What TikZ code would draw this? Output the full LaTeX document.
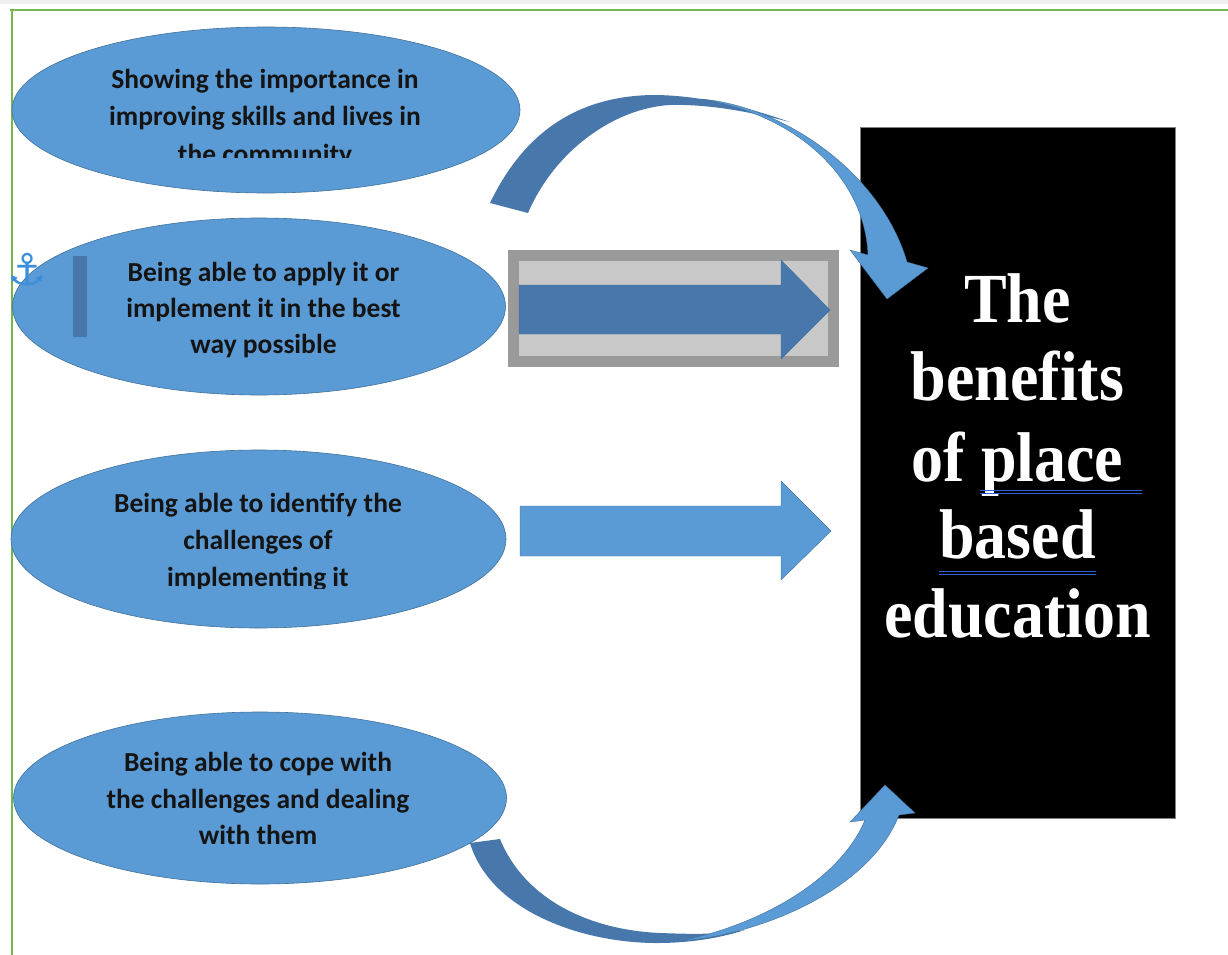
\documentclass[tikz,border=0pt]{standalone}
\usepackage{fontspec}
\usetikzlibrary{shapes.geometric}
\newfontfamily\bubblefont{Carlito}
\newfontfamily\titlefont{Liberation Serif}
\newfontfamily\symfont{DejaVu Sans}
\definecolor{bubble}{HTML}{5B9BD5}
\definecolor{bubbleedge}{HTML}{41719C}
\definecolor{deepblue}{HTML}{4878AB}
\definecolor{frameg}{HTML}{74B84E}
\definecolor{topband}{HTML}{EFEFEF}
\definecolor{boxouter}{HTML}{9A9A9A}
\definecolor{boxinner}{HTML}{C8C8C8}
\definecolor{inkdark}{HTML}{141414}
\definecolor{markblue}{HTML}{2F5FE0}
\definecolor{anchorblue}{HTML}{3C8EDB}
\newcommand{\tall}[1]{\scalebox{1}[1.1]{#1}}
\tikzset{
  bubblebox/.style={ellipse, fill=bubble, draw=bubbleedge, line width=0.6pt, inner sep=0pt},
  bubbletext/.style={anchor=base, text=inkdark, inner sep=0pt,
    font=\bubblefont\bfseries\fontsize{27.5}{37}\selectfont},
  titletext/.style={anchor=base, text=white, inner sep=0pt,
    font=\titlefont\bfseries\fontsize{64}{79}\selectfont},
  blockarrow/.style={fill=bubble, draw=bubbleedge, line width=0.4pt},
  darkarrow/.style={fill=deepblue, draw=bubbleedge, line width=0.4pt},
  spellmark/.style={draw=markblue, line width=1.2pt},
}
\begin{document}
\begin{tikzpicture}[x=1pt,y=-1pt]
\useasboundingbox (0,0) rectangle (1228,955);
\fill[white] (0,0) rectangle (1228,955);
% page edge
\fill[topband] (0,0) rectangle (1228,4);
\draw[frameg, line width=1.6pt] (10,10) -- (1228,10);
\draw[frameg, line width=1.6pt] (12,10) -- (12,955);

% title panel
\node[fill=black, draw=gray, line width=0.6pt, minimum width=315pt, minimum height=691pt, inner sep=0pt]
  (panel) at (1017.5,472.5) {};
\node[titletext] (t1) at (1017.5,322) {\tall{The}};
\node[titletext] (t2) at (1017.5,400) {\tall{benefits}};
\node[titletext] (t3) at (1017.5,481) {\tall{of place}};
\node[titletext] (t4) at (1017.5,558) {\tall{based}};
\node[titletext] (t5) at (1017.5,637) {\tall{education}};
\draw[spellmark] (980,490.5) -- (1142,490.5);
\draw[spellmark] (980,493.8) -- (1142,493.8);
\draw[spellmark] (939,571.5) -- (1096,571.5);
\draw[spellmark] (939,574.8) -- (1096,574.8);

% curved arrow over the top
\fill[deepblue] (490,203) .. controls (525,130) and (580,96) .. (653,95)
  .. controls (700,95) and (750,108) .. (790,122)
  .. controls (750,112) and (710,104) .. (670,105)
  .. controls (615,108) and (555,150) .. (528,213) -- cycle;
\path[blockarrow] (700,99) .. controls (780,105) and (880,170) .. (907,262)
  -- (928,268) -- (887,299) -- (850,250) -- (868,255)
  .. controls (865,180) and (800,115) .. (700,99) -- cycle;

% curved arrow under the bottom
\fill[deepblue] (470,843) .. controls (490,910) and (580,943) .. (657,943)
  .. controls (690,943) and (720,938) .. (745,930)
  .. controls (715,935) and (690,934) .. (660,933)
  .. controls (590,930) and (525,900) .. (500,839) -- cycle;
\path[blockarrow] (680,941) .. controls (760,935) and (870,890) .. (899,815)
  -- (915,813) -- (885,785) -- (850,822) -- (865,820)
  .. controls (840,880) and (760,925) .. (680,941) -- cycle;

% framed straight arrow
\node[fill=boxinner, draw=boxouter, line width=11pt, minimum width=320pt, minimum height=106pt, inner sep=0pt]
  (frame) at (673.5,308.5) {};
\path[darkarrow] (519,285) -- (781,285) -- (781,260) -- (830,310) -- (781,359) -- (781,334) -- (519,334) -- cycle;

% plain straight arrow
\path[blockarrow] (520,506) -- (781,506) -- (781,481) -- (831,531) -- (781,580) -- (781,556) -- (520,556) -- cycle;

% bubbles
\node[bubblebox, minimum width=508pt, minimum height=166pt] (e1) at (266,110) {};
\node[bubblebox, minimum width=493pt, minimum height=177pt] (e2) at (259,306.5) {};
\node[bubblebox, minimum width=495pt, minimum height=178pt] (e3) at (258.5,539) {};
\node[bubblebox, minimum width=493pt, minimum height=172pt] (e4) at (260,798) {};

\begin{scope}
  \clip (0,0) rectangle (560,157);
  \node[bubbletext] (e1a) at (265,89) {Showing the importance in};
  \node[bubbletext] (e1b) at (265,126) {improving skills and lives in};
  \node[bubbletext] (e1c) at (265,163) {the community};
\end{scope}

\fill[deepblue] (73,256) rectangle (87,337);
\node[bubbletext] (e2a) at (263.5,281) {Being able to apply it or};
\node[bubbletext] (e2b) at (263.5,317) {implement it in the best};
\node[bubbletext] (e2c) at (263.5,353) {way possible};

\begin{scope}
  \clip (0,440) rectangle (560,588);
  \node[bubbletext] (e3a) at (258,512) {Being able to identify the};
  \node[bubbletext] (e3b) at (258,549) {challenges of};
  \node[bubbletext] (e3c) at (258,586) {implementing it};
\end{scope}

\node[bubbletext] (e4a) at (258,771) {Being able to cope with};
\node[bubbletext] (e4b) at (258,808) {the challenges and dealing};
\node[bubbletext] (e4c) at (258,844) {with them};

% anchor mark
\node[text=anchorblue, inner sep=0pt, font=\symfont\fontsize{44}{44}\selectfont] (anc) at (27,270) {⚓};
\end{tikzpicture}
\end{document}
